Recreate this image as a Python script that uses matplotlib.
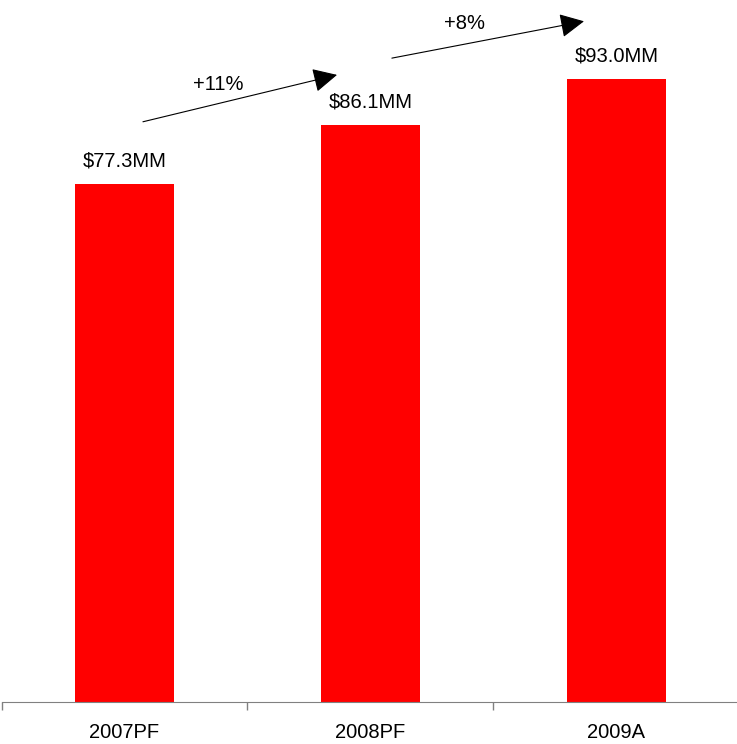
import matplotlib.pyplot as plt
import numpy as np

plt.rcParams['font.family'] = ['Liberation Sans', 'DejaVu Sans']

categories = ['2007PF', '2008PF', '2009A']
revenue = [77.3, 86.1, 93.0]
value_labels = ['$77.3MM', '$86.1MM', '$93.0MM']
growth_labels = ['+11%', '+8%']

W, H = 737, 744
fig = plt.figure(figsize=(W / 100, H / 100), dpi=100)
px_per_unit = 6.7
ymax = 100
ax_bottom = 744 - 702
ax = fig.add_axes([1.5 / W, ax_bottom / H, (W - 1.5) / W, ymax * px_per_unit / H])

x = np.arange(len(categories))
ax.bar(x, revenue, width=0.4, color='#ff0000', zorder=2)

fs = 14.5
for xi, v, lab in zip(x, revenue, value_labels):
    ax.annotate(lab, (xi, v), xytext=(0, 16.5), textcoords='offset points',
                ha='center', va='center', fontsize=fs)

# growth arrows
arrows = [((0.075, 86.6), (0.864, 93.6), (0.38, 92.1)),
          ((1.087, 96.1), (1.868, 101.6), (1.384, 101.3))]
for (start, end, tpos), g in zip(arrows, growth_labels):
    ax.annotate('', xy=end, xytext=start, annotation_clip=False,
                arrowprops=dict(arrowstyle='-|>,head_length=0.5,head_width=0.25',
                                color='black', lw=0.8,
                                mutation_scale=30, shrinkA=0, shrinkB=0))
    ax.text(tpos[0], tpos[1], g, ha='center', va='center', fontsize=fs,
            clip_on=False)

ax.set_xlim(-0.5, 2.49)
ax.set_ylim(0, ymax)
ax.set_xticks(x)
ax.set_xticklabels(categories, fontsize=fs)
ax.set_xticks([-0.5, 0.5, 1.5], minor=True)
ax.tick_params(axis='x', which='major', length=0, pad=15)
ax.tick_params(axis='x', which='minor', length=5.5, color='#808080', width=1)
ax.set_yticks([])
for s in ['top', 'right', 'left']:
    ax.spines[s].set_visible(False)
ax.spines['bottom'].set_color('#808080')

fig.savefig('out.png', dpi=100)
